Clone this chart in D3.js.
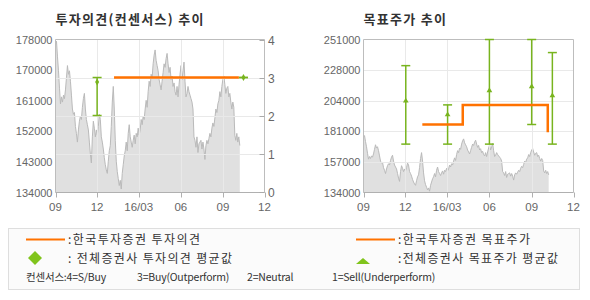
<!doctype html>
<html>
<head>
    <meta charset="utf-8"/>
    <style>
        body { margin: 0; background: #fff; }
        svg { display: block; }
        text { font-family: "Liberation Sans", Arial, sans-serif; }
        .kr { font-family: "Noto Sans CJK KR", sans-serif; }
    </style>
    <script src="https://cdnjs.cloudflare.com/ajax/libs/d3/7.8.5/d3.min.js"></script>
</head>
<body>

<svg width="590" height="300"></svg>

<script>

    // stock price, a regular series between these two dates
    var priceStart = "2015-09-01";
    var priceEnd = "2016-10-08";
    var priceValues = [
        176500,177500,173000,169000,164000,159500,161500,160000,162000,161000,
        163500,167000,170500,168000,169000,166000,162000,158000,156500,157000,
        153000,151000,148500,152000,154500,156000,155000,158500,161000,162500,
        158000,155000,153500,152000,148500,145000,142500,150000,154500,152500,
        150000,152000,150500,153000,156500,155000,150000,148500,146500,144000,
        142000,140500,139500,143000,146000,147500,153000,160000,164500,158000,
        149000,143000,140000,138000,136000,137500,135000,139500,142000,144500,
        146000,148500,146000,151000,153500,150000,148500,147000,149000,150500,
        148000,151000,150000,152500,150500,152000,155000,153500,156000,155000,
        158000,160500,158500,163000,166000,164500,168000,167000,171000,173500,
        175000,172000,170500,169000,166500,165000,163500,166000,168500,171000,
        170000,172500,174000,171000,168500,170000,166500,167500,164500,165500,
        163000,162000,164500,161500,165000,168000,170500,166500,169000,171500,
        166000,161500,162500,164500,163000,162000,161000,160000,158000,150000,
        149000,147000,150000,145500,148000,148500,149000,146500,148500,146500,
        143500,147500,149000,148000,149500,151000,150000,152500,154000,153000,
        155500,158000,157000,159500,160500,163000,161500,164500,166500,167500,
        165000,162500,164000,164500,161500,162500,160000,158000,160000,158500,
        150500,149000,151000,148500,150000,147500
    ];

    // 한국투자증권 투자의견 / 목표주가
    var opinionKis = [["2016-01-07", 3], ["2016-10-06", 3]];
    var targetKis = [["2016-01-07", 186000], ["2016-04-04", 201000], ["2016-10-06", 180000]];

    // 전체증권사 평균 (min / max / avg)
    var opinionConsensus = [
        {date: "2015-12-01", min: 2, max: 3, avg: 2.88},
        {date: "2016-10-16", min: 3, max: 3, avg: 3}
    ];
    var targetConsensus = [
        {date: "2015-12-02", min: 171000, max: 231000, avg: 204000},
        {date: "2016-03-02", min: 171000, max: 201000, avg: 193500},
        {date: "2016-06-01", min: 171000, max: 251000, avg: 212000},
        {date: "2016-09-01", min: 186000, max: 251000, avg: 215000},
        {date: "2016-10-16", min: 171000, max: 241000, avg: 208000}
    ];

    var xTicks = ["2015-09-01", "2015-12-01", "2016-03-01", "2016-06-01", "2016-09-01", "2016-12-01"];
    var xTickLabels = ["09", "12", "16/03", "06", "09", "12"];

    var priceTicks = [134000, 142800, 151600, 160400, 169200, 178000];
    var priceTickLabels = ["134000", "143000", "152000", "161000", "170000", "178000"];
    var opinionTicks = [0, 1, 2, 3, 4];
    var targetTicks = [134000, 157400, 180800, 204200, 227600, 251000];
    var targetTickLabels = ["134000", "157000", "181000", "204000", "228000", "251000"];

    var ORANGE = "#ff7200", GREEN = "#78b41e";
    var TOP = 39.5, BOTTOM = 192.5;

    var svg = d3.select("svg");
    var parse = d3.timeParse("%Y-%m-%d");

    var t0 = parse(priceStart), t1 = parse(priceEnd);
    var price = priceValues.map(function(v, i) {
        return {date: new Date(+t0 + (t1 - t0) * i / (priceValues.length - 1)), value: v};
    });

    function panel(opt) {
        var g = svg.append("g");
        var x = d3.scaleTime()
            .domain([parse(xTicks[0]), parse(xTicks[xTicks.length - 1])])
            .range([opt.left, opt.right]);
        var y = d3.scaleLinear().domain(opt.domain).range([BOTTOM, TOP]);

        // price area
        g.append("path").datum(price)
            .attr("fill", "#e0e0e0")
            .attr("d", d3.area().x(d => x(d.date)).y0(BOTTOM).y1(d => y(d.value)));
        g.append("path").datum(price)
            .attr("fill", "none").attr("stroke", "#bababa").attr("stroke-width", 1)
            .attr("d", d3.line().x(d => x(d.date)).y(d => y(d.value)));

        // grid
        g.selectAll(".vg").data(xTicks.slice(1, -1)).join("line")
            .attr("x1", d => Math.round(x(parse(d))) + 0.5).attr("x2", d => Math.round(x(parse(d))) + 0.5)
            .attr("y1", TOP).attr("y2", BOTTOM)
            .attr("stroke", "#e9e9e9");
        g.selectAll(".hg").data(opt.grid).join("line")
            .attr("x1", opt.left).attr("x2", opt.right)
            .attr("y1", d => Math.round(opt.gridScale(d)) + 0.5).attr("y2", d => Math.round(opt.gridScale(d)) + 0.5)
            .attr("stroke", "#e9e9e9");

        // frame
        g.append("path")
            .attr("d", "M" + opt.left + "," + BOTTOM + "V" + TOP + "H" + opt.right + "V" + BOTTOM)
            .attr("fill", "none").attr("stroke", "#bdbdbd");
        g.append("line")
            .attr("x1", opt.left).attr("x2", opt.right).attr("y1", BOTTOM).attr("y2", BOTTOM)
            .attr("stroke", "#b0b0b0");

        // x ticks
        g.selectAll(".xt").data(xTicks).join("line")
            .attr("x1", d => Math.round(x(parse(d))) + 0.5).attr("x2", d => Math.round(x(parse(d))) + 0.5)
            .attr("y1", BOTTOM).attr("y2", BOTTOM + 5)
            .attr("stroke", "#b0b0b0");
        g.selectAll(".xl").data(xTicks).join("text")
            .attr("x", d => x(parse(d))).attr("y", 211)
            .attr("text-anchor", "middle")
            .attr("font-size", 11.5).attr("fill", "#666")
            .text((d, i) => xTickLabels[i]);

        // left labels
        g.selectAll(".yl").data(opt.ticks).join("text")
            .attr("x", opt.left - 3).attr("y", d => y(d) + 4)
            .attr("text-anchor", "end")
            .attr("font-size", 11).attr("fill", "#666")
            .text((d, i) => opt.tickLabels[i]);

        // title
        g.append("text").attr("class", "kr")
            .attr("x", opt.left).attr("y", 24)
            .attr("font-size", 13).attr("font-weight", "bold").attr("fill", "#333")
            .attr("letter-spacing", 1.3)
            .text(opt.title);

        return {g: g, x: x, y: y};
    }

    function errorBars(g, x, y, data, marker) {
        var bars = g.selectAll(".eb").data(data).join("g");
        bars.append("line")
            .attr("x1", d => x(parse(d.date))).attr("x2", d => x(parse(d.date)))
            .attr("y1", d => y(d.min)).attr("y2", d => y(d.max))
            .attr("stroke", GREEN).attr("stroke-width", 1.5);
        ["min", "max"].forEach(function(k) {
            bars.append("line")
                .attr("x1", d => x(parse(d.date)) - 4.5).attr("x2", d => x(parse(d.date)) + 4.5)
                .attr("y1", d => y(d[k])).attr("y2", d => y(d[k]))
                .attr("stroke", GREEN).attr("stroke-width", 1.5);
        });
        bars.append("path")
            .attr("transform", d => "translate(" + x(parse(d.date)) + "," + y(d.avg) + ")")
            .attr("d", d3.symbol().type(marker).size(14))
            .attr("fill", GREEN);
    }

    // ---- left: 투자의견
    var yOp = d3.scaleLinear().domain([0, 4]).range([191.5, 39.5]);
    var L = panel({
        left: 55.5, right: 264.5,
        domain: [priceTicks[0], priceTicks[priceTicks.length - 1]],
        ticks: priceTicks, tickLabels: priceTickLabels,
        grid: [1, 2, 3],
        gridScale: yOp,
        title: "투자의견(컨센서스) 추이"
    });

    // right axis 0-4
    L.g.selectAll(".rt").data(opinionTicks).join("line")
        .attr("x1", 259.5).attr("x2", 264.5)
        .attr("y1", d => Math.round(yOp(d)) + 0.5).attr("y2", d => Math.round(yOp(d)) + 0.5)
        .attr("stroke", "#aaa");
    L.g.selectAll(".rl").data(opinionTicks).join("text")
        .attr("x", 268).attr("y", d => yOp(d) + 5)
        .attr("font-size", 12).attr("fill", "#666")
        .text(d => d);

    errorBars(L.g, L.x, yOp, opinionConsensus, d3.symbolDiamond);
    L.g.append("path").datum(opinionKis)
        .attr("fill", "none").attr("stroke", ORANGE).attr("stroke-width", 2.5)
        .attr("d", d3.line().x(d => L.x(parse(d[0]))).y(d => yOp(d[1])));

    // ---- right: 목표주가
    var yT = d3.scaleLinear().domain([targetTicks[0], targetTicks[targetTicks.length - 1]]).range([BOTTOM, TOP]);
    var R = panel({
        left: 363.5, right: 573.5,
        domain: [targetTicks[0], targetTicks[targetTicks.length - 1]],
        ticks: targetTicks, tickLabels: targetTickLabels,
        grid: targetTicks.slice(1, -1),
        gridScale: yT,
        title: "목표주가 추이"
    });
    errorBars(R.g, R.x, R.y, targetConsensus, d3.symbolTriangle);
    R.g.append("path").datum(targetKis)
        .attr("fill", "none").attr("stroke", ORANGE).attr("stroke-width", 2.5)
        .attr("d", d3.line().curve(d3.curveStepAfter).x(d => R.x(parse(d[0]))).y(d => R.y(d[1])));

    // ---- legend
    var lg = svg.append("g");
    lg.append("rect")
        .attr("x", 8.5).attr("y", 228.5).attr("width", 571).attr("height", 61)
        .attr("fill", "#fbfbfb").attr("stroke", "#dedede");

    lg.append("line").attr("x1", 26).attr("x2", 65).attr("y1", 239.5).attr("y2", 239.5)
        .attr("stroke", ORANGE).attr("stroke-width", 2);
    lg.append("line").attr("x1", 356).attr("x2", 395).attr("y1", 239.5).attr("y2", 239.5)
        .attr("stroke", ORANGE).attr("stroke-width", 2);
    lg.append("path").attr("transform", "translate(35,258)")
        .attr("d", "M0,-7L7,0L0,7L-7,0Z").attr("fill", "#80c41c");
    lg.append("path").attr("transform", "translate(363,258)")
        .attr("d", "M0,0L7,6H-7Z").attr("fill", "#80c41c");

    var legendTexts = [
        [68, 244, ":한국투자증권 투자의견", 132],
        [68, 263, ": 전체증권사 투자의견 평균값", 164],
        [398, 244, ":한국투자증권 목표주가", 132],
        [398, 263, ":전체증권사 목표주가 평균값", 160]
    ];
    lg.selectAll(".lt").data(legendTexts).join("text")
        .attr("class", "kr")
        .attr("x", d => d[0]).attr("y", d => d[1])
        .attr("font-size", 12).attr("fill", "#333")
        .attr("textLength", d => d[3]).attr("lengthAdjust", "spacing")
        .text(d => d[2]);

    var consensusNote = [
        [26, "컨센서스:4=S/Buy"],
        [137, "3=Buy(Outperform)"],
        [247, "2=Neutral"],
        [332, "1=Sell(Underperform)"]
    ];
    lg.selectAll(".cn").data(consensusNote).join("text")
        .attr("class", "kr")
        .attr("x", d => d[0]).attr("y", 281)
        .attr("font-size", 10.5).attr("fill", "#333")
        .attr("letter-spacing", -0.2)
        .text(d => d[1]);

</script>

</body>
</html>
